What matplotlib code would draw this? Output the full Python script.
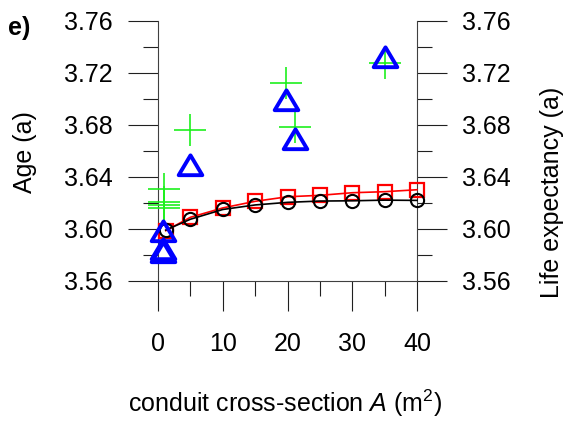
import matplotlib
matplotlib.use("Agg")
import matplotlib.pyplot as plt
from matplotlib.path import Path
from matplotlib.markers import MarkerStyle
from matplotlib.ticker import MultipleLocator, FormatStrFormatter

plt.rcParams['font.family'] = ['Liberation Sans', 'DejaVu Sans']
plt.rcParams['mathtext.fontset'] = 'custom'
plt.rcParams['mathtext.rm'] = 'Liberation Sans'
plt.rcParams['mathtext.it'] = 'Liberation Sans:italic'

# modelled age (black circles) and life expectancy (red squares)
area_model = [1.2, 5, 10, 15, 20, 25, 30, 35, 40]
age_model = [3.5992, 3.6075, 3.6150, 3.6185, 3.6205, 3.6215, 3.6217, 3.6222, 3.6220]
life_model = [3.5987, 3.6090, 3.6162, 3.6213, 3.6248, 3.6259, 3.6279, 3.6287, 3.6302]

# individual conduit results
area_plus = [1, 1, 1, 1, 5, 19.8, 21.2, 35]
age_plus = [3.6305, 3.6210, 3.6185, 3.6159, 3.6762, 3.7121, 3.6787, 3.7275]
area_tri = [0.8, 0.8, 0.8, 5, 19.8, 21.2, 35]
life_tri = [3.5988, 3.5850, 3.5823, 3.6495, 3.6996, 3.6695, 3.7322]

W, H = 566, 421
fig = plt.figure(figsize=(W / 100, H / 100), dpi=100)
ax = fig.add_axes([158 / W, 140 / H, 259 / W, 260 / H])

ax.plot(area_model, life_model, '-', color='red', lw=1.2, marker='s', ms=9.5,
        mfc='none', mec='red', mew=1.6, clip_on=False, zorder=3)
ax.plot(area_model, age_model, '-', color='black', lw=1.2, marker='o', ms=9.5,
        mfc='none', mec='black', mew=1.5, clip_on=False, zorder=4)
ax.plot(area_plus, age_plus, ls='none', marker='+', ms=23, mew=1.2,
        color='#1ef01e', clip_on=False, zorder=5)

tri_path = Path([(-1, -0.82), (1, -0.82), (0, 0.86), (-1, -0.82)],
                [Path.MOVETO, Path.LINETO, Path.LINETO, Path.CLOSEPOLY])
tri = MarkerStyle(tri_path, joinstyle='miter')
ax.plot(area_tri, life_tri, ls='none', marker=tri, ms=17, mfc='none',
        mec='#0000ff', mew=2.8, clip_on=False, zorder=6)

ax.set_xlim(0, 40)
ax.set_ylim(3.56, 3.76)
ax.xaxis.set_major_locator(MultipleLocator(10))
ax.xaxis.set_minor_locator(MultipleLocator(5))
ax.yaxis.set_major_locator(MultipleLocator(0.04))
ax.yaxis.set_minor_locator(MultipleLocator(0.02))
ax.yaxis.set_major_formatter(FormatStrFormatter('%.2f'))

for side in ('left', 'right', 'bottom'):
    ax.spines[side].set_color('#404040')
    ax.spines[side].set_linewidth(0.8)
ax.spines['top'].set_visible(False)

ax.tick_params(axis='both', which='major', direction='out', length=21.6,
               width=0.8, color='#202020', labelsize=18)
ax.tick_params(axis='both', which='minor', direction='out', length=11,
               width=0.8, color='#202020')
ax.tick_params(axis='y', which='both', left=True, right=True,
               labelleft=True, labelright=True, pad=11)
ax.tick_params(axis='x', which='major', pad=15)

fig.text(285 / W, 1 - 403 / H, 'conduit cross-section $A$ (m$^2$)',
         ha='center', va='center', fontsize=18)
fig.text(25 / W, 1 - 152 / H, 'Age (a)', rotation=90,
         ha='center', va='center', fontsize=18)
fig.text(552 / W, 1 - 192 / H, 'Life expectancy (a)', rotation=90,
         ha='center', va='center', fontsize=18)
fig.text(8 / W, 1 - 28 / H, 'e)', ha='left', va='center', fontsize=18,
         fontweight='bold')

fig.savefig('out.png', dpi=100)
